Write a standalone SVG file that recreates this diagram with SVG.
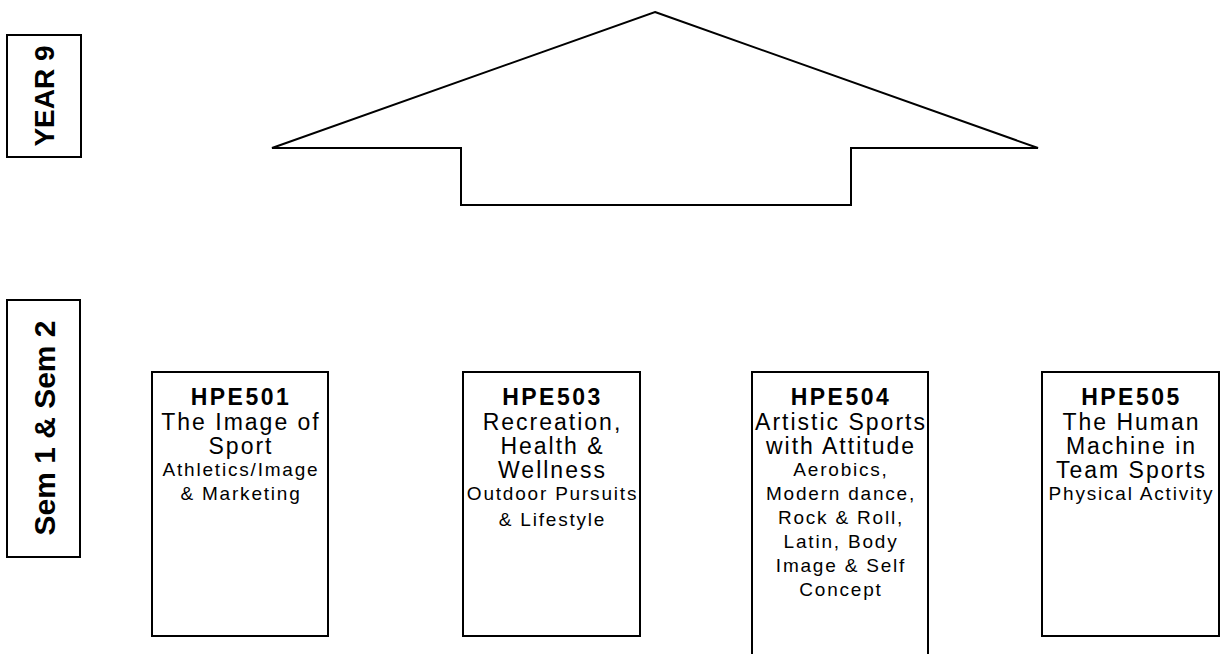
<svg xmlns="http://www.w3.org/2000/svg" width="1231" height="654" viewBox="0 0 1231 654">
<style>
.box{fill:#fff;stroke:#000;stroke-width:2}
.lbl{font-family:"Liberation Sans",Arial,sans-serif;font-weight:bold;fill:#000;text-anchor:middle}
.t{font-family:"Liberation Sans",Arial,sans-serif;font-weight:bold;font-size:23px;letter-spacing:2.5px;text-anchor:middle;fill:#000}
.b{font-family:"Liberation Sans",Arial,sans-serif;font-size:23px;letter-spacing:2px;text-anchor:middle;fill:#000}
.s{font-family:"Liberation Sans",Arial,sans-serif;font-size:19px;letter-spacing:1.8px;text-anchor:middle;fill:#000}
</style>
<rect width="1231" height="654" fill="#fff"/>
<g id="year9">
<rect class="box" x="7" y="35" width="74" height="122"/>
<text class="lbl" font-size="28" transform="translate(54,96) rotate(-90)">YEAR 9</text>
</g>
<g id="sem">
<rect class="box" x="7" y="300" width="73" height="257"/>
<text class="lbl" font-size="30" transform="translate(55,428) rotate(-90)">Sem 1 &amp; Sem 2</text>
</g>
<g id="arrow">
<polygon class="box" points="655,12 1038,148 851,148 851,205 461,205 461,148 272,148"/>
</g>
<g id="hpe501">
<rect class="box" x="152" y="372" width="176" height="264"/>
<text class="t" x="241" y="405">HPE501</text>
<text class="b" x="241" y="430">The Image of</text>
<text class="b" x="241" y="454">Sport</text>
<text class="s" x="241" y="476">Athletics/Image</text>
<text class="s" x="241" y="500">&amp; Marketing</text>
</g>
<g id="hpe503">
<rect class="box" x="463" y="372" width="177" height="264"/>
<text class="t" x="552.5" y="405">HPE503</text>
<text class="b" x="552.5" y="430">Recreation,</text>
<text class="b" x="552.5" y="454">Health &amp;</text>
<text class="b" x="552.5" y="478">Wellness</text>
<text class="s" x="552.5" y="500">Outdoor Pursuits</text>
<text class="s" x="552.5" y="526">&amp; Lifestyle</text>
</g>
<g id="hpe504">
<rect class="box" x="752" y="372" width="176" height="300"/>
<text class="t" x="841" y="405">HPE504</text>
<text class="b" x="841" y="430">Artistic Sports</text>
<text class="b" x="841" y="454">with Attitude</text>
<text class="s" x="841" y="476">Aerobics,</text>
<text class="s" x="841" y="500">Modern dance,</text>
<text class="s" x="841" y="524">Rock &amp; Roll,</text>
<text class="s" x="841" y="548">Latin, Body</text>
<text class="s" x="841" y="572">Image &amp; Self</text>
<text class="s" x="841" y="596">Concept</text>
</g>
<g id="hpe505">
<rect class="box" x="1042" y="372" width="177" height="264"/>
<text class="t" x="1131.5" y="405">HPE505</text>
<text class="b" x="1131.5" y="430">The Human</text>
<text class="b" x="1131.5" y="454">Machine in</text>
<text class="b" x="1131.5" y="478">Team Sports</text>
<text class="s" x="1131.5" y="500">Physical Activity</text>
</g>
<g id="connectors"></g>
</svg>
